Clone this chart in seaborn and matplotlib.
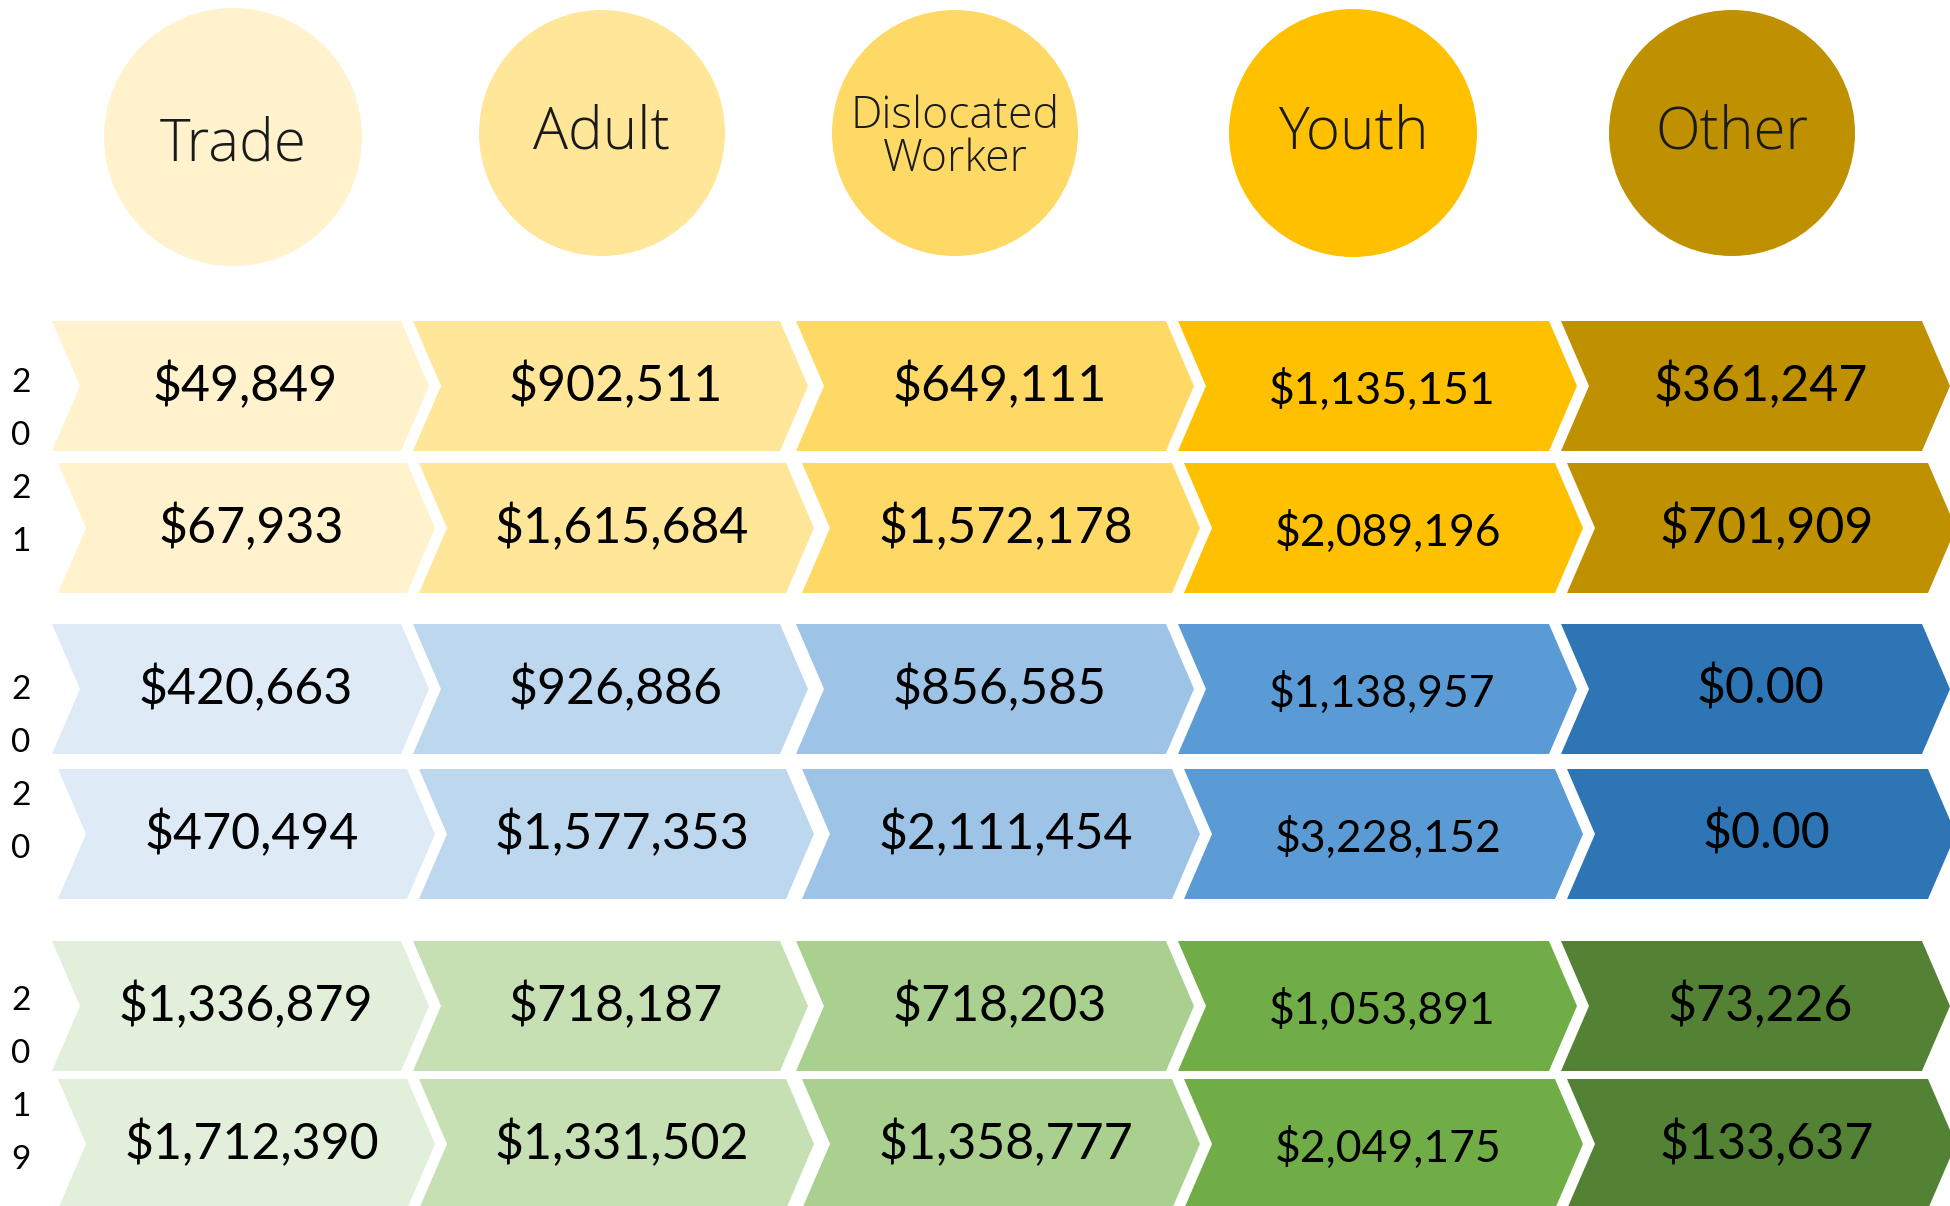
import matplotlib
matplotlib.use("Agg")
import matplotlib.pyplot as plt
from matplotlib.patches import Polygon
import seaborn as sns
import pandas as pd

# ---------------- data ----------------
categories = ["Trade", "Adult", "Dislocated\nWorker", "Youth", "Other"]
years = ["2021", "2020", "2019"]
values_2021_a = ["$49,849", "$902,511", "$649,111", "$1,135,151", "$361,247"]
values_2021_b = ["$67,933", "$1,615,684", "$1,572,178", "$2,089,196", "$701,909"]
values_2020_a = ["$420,663", "$926,886", "$856,585", "$1,138,957", "$0.00"]
values_2020_b = ["$470,494", "$1,577,353", "$2,111,454", "$3,228,152", "$0.00"]
values_2019_a = ["$1,336,879", "$718,187", "$718,203", "$1,053,891", "$73,226"]
values_2019_b = ["$1,712,390", "$1,331,502", "$1,358,777", "$2,049,175", "$133,637"]

# ---------------- styles ----------------
gold = ["#FFF2CC", "#FFE699", "#FFD966", "#FFC000", "#BF9000"]
blue = ["#DEEBF7", "#BDD7EE", "#9DC3E6", "#5B9BD5", "#2E75B6"]
green = ["#E2EFDA", "#C6E0B4", "#A9D08E", "#70AD47", "#548235"]
palettes = [gold, blue, green]

# layout (pixel-like units of the canvas)
W, H = 1950, 1206
col_left = [52, 413, 796, 1178, 1561]
col_tip = [429, 808, 1194, 1577, 1950]
row_top = [321, 463, 624, 769, 941, 1079]
row_h = 130
depth = 28
circle_x = [233, 602, 955, 1353, 1732]
circle_y = [137, 133, 133, 133, 133]
circle_r = [129, 123, 123, 124, 123]
header_dy = [8, 0, 5, 0, 0]
header_size = [42, 42, 32, 42, 42]
value_size = [36, 36, 36, 32, 36]
value_dy = [0, 0, 0, 4, 0]
digit_first = [383, 690, 1001]
digit_step = 53

sns.set_theme(style="white")
plt.rcParams["font.family"] = ["Lato", "DejaVu Sans"]

fig = plt.figure(figsize=(19.5, 12.06), dpi=100)
ax = fig.add_axes([0, 0, 1, 1])

# header circles via seaborn scatter (size in points^2 computed from radius)
hdr = pd.DataFrame({"x": circle_x, "y": circle_y, "label": categories,
                    "s": [(2 * r * 72 / 100) ** 2 for r in circle_r]})
for i, row in hdr.iterrows():
    sns.scatterplot(x=[row["x"]], y=[row["y"]], s=row["s"], color=gold[i],
                    edgecolor="none", linewidth=0, ax=ax, legend=False, zorder=2)
    ax.text(row["x"], row["y"] + header_dy[i], row["label"], ha="center", va="center",
            fontsize=header_size[i], family=["Open Sans", "DejaVu Sans"],
            fontweight="light", color="#1a1a1a", linespacing=0.95, zorder=3)
ax.set_xlim(0, W)
ax.set_ylim(H, 0)
ax.set_aspect("equal")
ax.axis("off")

rows_values = [values_2021_a, values_2021_b, values_2020_a, values_2020_b,
               values_2019_a, values_2019_b]

for r, vals in enumerate(rows_values):
    g = r // 2
    y0 = row_top[r]
    y1 = y0 + row_h
    ym = (y0 + y1) / 2
    xoff = 6 * (r % 2)
    for c, v in enumerate(vals):
        L = col_left[c] + xoff
        T = min(col_tip[c] + xoff, W + 20)
        pts = [(L, y0), (T - depth, y0), (T, ym), (T - depth, y1), (L, y1), (L + depth, ym)]
        ax.add_patch(Polygon(pts, closed=True, facecolor=palettes[g][c],
                             edgecolor="none", zorder=1))
        ax.text((L + T) / 2 + 5, ym + value_dy[c], v, ha="center", va="center",
                fontsize=value_size[c], color="black", zorder=3)

# stacked year digits
for g, yr in enumerate(years):
    for k, ch in enumerate(yr):
        ax.text(21, digit_first[g] + digit_step * k, ch, ha="center", va="center",
                fontsize=24, color="black")

fig.savefig("out.png", dpi=100)
